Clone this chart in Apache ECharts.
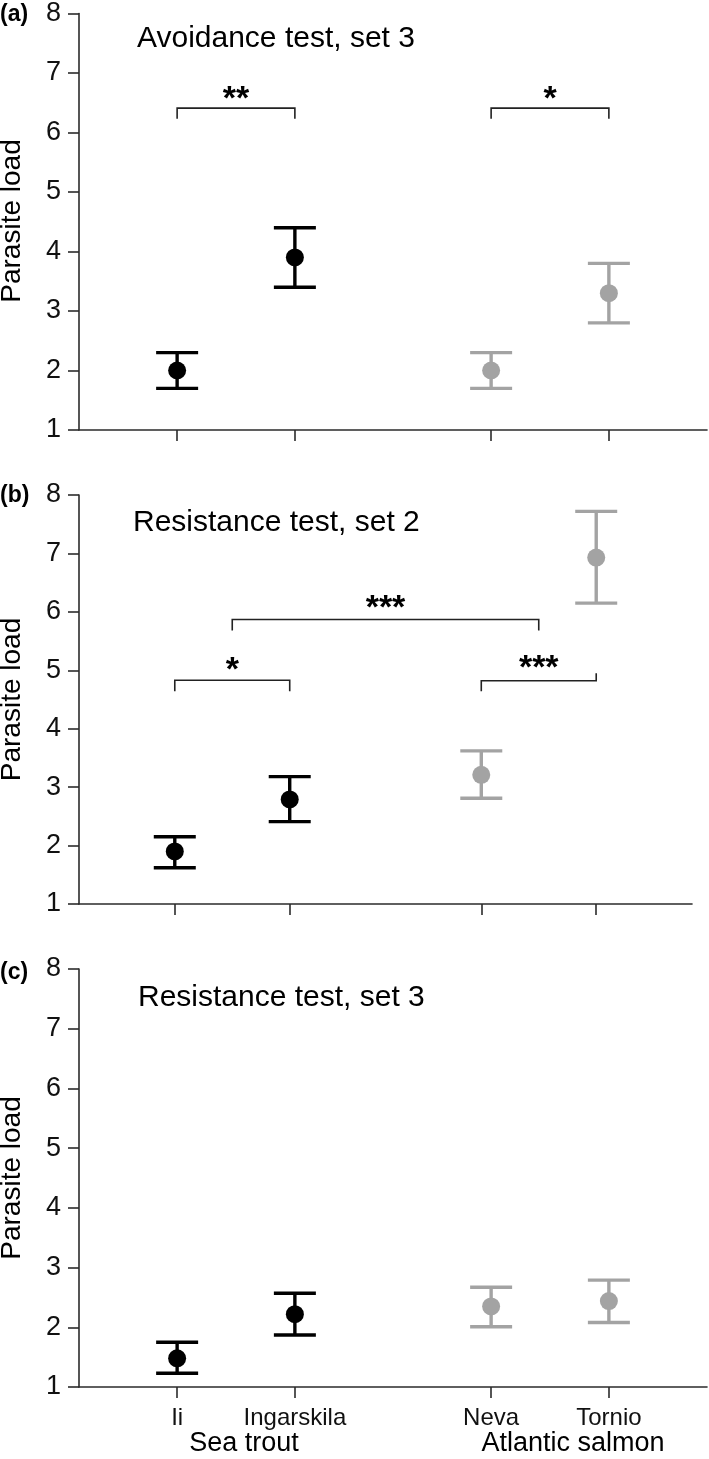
<!DOCTYPE html>
<html><head><meta charset="utf-8">
<script src="https://cdn.jsdelivr.net/npm/echarts@6/dist/echarts.min.js"></script>
<style>html,body{margin:0;padding:0;background:#fff}#c{width:709px;height:1459px}</style>
</head><body><div id="c"></div>
<script>
// ---------------- data ----------------
const populations = ['Ii', 'Ingarskila', 'Neva', 'Tornio'];
const speciesOf = ['Sea trout', 'Sea trout', 'Atlantic salmon', 'Atlantic salmon'];
const groupLabels = ['Sea trout', 'Atlantic salmon'];
const yTicks = [1, 2, 3, 4, 5, 6, 7, 8];
const panelLetters = ['(a)', '(b)', '(c)'];
const panelTitles = ['Avoidance test, set 3', 'Resistance test, set 2', 'Resistance test, set 3'];
const yAxisName = 'Parasite load';

// (a) Avoidance test, set 3
const meanA = [2.0, 3.9, 2.0, 3.3];
const lowA  = [1.7, 3.4, 1.7, 2.8];
const highA = [2.3, 4.4, 2.3, 3.8];
// (b) Resistance test, set 2
const meanB = [1.9, 2.79, 3.21, 6.93];
const lowB  = [1.62, 2.41, 2.81, 6.15];
const highB = [2.15, 3.18, 3.62, 7.72];
// (c) Resistance test, set 3
const meanC = [1.48, 2.22, 2.35, 2.44];
const lowC  = [1.23, 1.87, 2.01, 2.08];
const highC = [1.75, 2.57, 2.67, 2.79];

// significance brackets (left side groups, right side groups, bar level, end levels, stars, star level)
const sigA = [
  { from: ['Ii'], to: ['Ingarskila'], level: 6.41, leftEnd: 6.23, rightEnd: 6.23, label: '**', labelAt: 6.56 },
  { from: ['Neva'], to: ['Tornio'], level: 6.41, leftEnd: 6.23, rightEnd: 6.23, label: '*', labelAt: 6.56 }
];
const sigB = [
  { from: ['Ii'], to: ['Ingarskila'], level: 4.83, leftEnd: 4.64, rightEnd: 4.64, label: '*', labelAt: 5.0 },
  { from: ['Ii', 'Ingarskila'], to: ['Neva', 'Tornio'], level: 5.87, leftEnd: 5.68, rightEnd: 5.68, label: '***', labelAt: 6.05 },
  { from: ['Neva'], to: ['Tornio'], level: 4.82, leftEnd: 4.64, rightEnd: 4.95, label: '***', labelAt: 5.03 }
];
const sigC = [];

// ---------------- layout / style ----------------
const FONT = "'Liberation Sans', Arial, Helvetica, sans-serif";
const speciesColor = { 'Sea trout': '#000000', 'Atlantic salmon': '#a3a3a3' };
const AXIS_COLOR = '#2b2b2b';
// x positions expressed as slots of a 16-slot category axis
const NSLOT = 16;
const slotIndex = { 'Ii': 2, 'Ingarskila': 5, 'Neva': 10, 'Tornio': 13 };
const slots = [];
for (let i = 0; i < NSLOT; i++) slots.push('_gap' + i);
populations.forEach(p => { slots[slotIndex[p]] = p; });

const grids = [
  { left: 79, top: 12, width: 628, height: 418 },
  { left: 79, top: 495, width: 613, height: 409 },
  { left: 79, top: 969, width: 628, height: 418 }
];
const panels = [
  { mean: meanA, low: lowA, high: highA, sig: sigA },
  { mean: meanB, low: lowB, high: highB, sig: sigB },
  { mean: meanC, low: lowC, high: highC, sig: sigC }
];

const isPop = (idx, val) => populations.indexOf(val) >= 0;

const xAxes = grids.map((g, i) => ({
  type: 'category', gridIndex: i, data: slots, boundaryGap: true,
  axisLine: { show: true, lineStyle: { color: AXIS_COLOR, width: 1.6 } },
  axisTick: { show: true, interval: isPop, alignWithLabel: true, length: 11, lineStyle: { color: AXIS_COLOR, width: 1.6 } },
  axisLabel: {
    show: i === 2, interval: isPop, margin: 19,
    fontFamily: FONT, fontSize: 24, color: '#111',
    formatter: v => (populations.indexOf(v) >= 0 ? v : '')
  },
  splitLine: { show: false }
}));

const yAxes = grids.map((g, i) => ({
  type: 'value', gridIndex: i, min: yTicks[0], max: yTicks[yTicks.length - 1], interval: 1,
  axisLine: { show: true, lineStyle: { color: AXIS_COLOR, width: 1.6 } },
  axisTick: { show: true, length: 11, lineStyle: { color: AXIS_COLOR, width: 1.6 } },
  axisLabel: { margin: 18, fontFamily: FONT, fontSize: 27, color: '#111' },
  splitLine: { show: false }
}));

function errorBarRender(params, api) {
  const x = api.value(0);
  const lo = api.coord([x, api.value(1)]);
  const hi = api.coord([x, api.value(2)]);
  const mid = api.coord([x, api.value(3)]);
  const color = api.visual('color');
  const hw = 21, lw = 3.4;
  const ls = { stroke: color, lineWidth: lw, fill: null };
  return {
    type: 'group',
    children: [
      { type: 'line', shape: { x1: lo[0], y1: lo[1], x2: hi[0], y2: hi[1] }, style: ls },
      { type: 'line', shape: { x1: lo[0] - hw, y1: lo[1], x2: lo[0] + hw, y2: lo[1] }, style: ls },
      { type: 'line', shape: { x1: hi[0] - hw, y1: hi[1], x2: hi[0] + hw, y2: hi[1] }, style: ls },
      { type: 'circle', shape: { cx: mid[0], cy: mid[1], r: 9 }, style: { fill: color } }
    ]
  };
}

function makeBracketRender(sig) {
  return function (params, api) {
    const b = sig[params.dataIndex];
    const avgX = names => names.reduce((s, n) => s + api.coord([slotIndex[n], b.level])[0], 0) / names.length;
    const x1 = avgX(b.from), x2 = avgX(b.to);
    const yL = api.coord([slotIndex[b.from[0]], b.level])[1];
    const yLe = api.coord([slotIndex[b.from[0]], b.leftEnd])[1];
    const yRe = api.coord([slotIndex[b.from[0]], b.rightEnd])[1];
    const yT = api.coord([slotIndex[b.from[0]], b.labelAt])[1];
    return {
      type: 'group',
      children: [
        { type: 'polyline', shape: { points: [[x1, yLe], [x1, yL], [x2, yL], [x2, yRe]] },
          style: { stroke: '#222', lineWidth: 1.6, fill: null } },
        { type: 'text', x: (x1 + x2) / 2, y: yT,
          style: { text: b.label, fontFamily: FONT, fontSize: 34, fontWeight: 'bold', fill: '#000', align: 'center', verticalAlign: 'middle' } }
      ]
    };
  };
}

const series = [];
panels.forEach((p, i) => {
  series.push({
    type: 'custom', xAxisIndex: i, yAxisIndex: i, clip: false,
    renderItem: errorBarRender,
    encode: { x: 0, y: [1, 2, 3] },
    data: populations.map((name, k) => ({
      value: [slotIndex[name], p.low[k], p.high[k], p.mean[k]],
      itemStyle: { color: speciesColor[speciesOf[k]] }
    })),
    z: 3
  });
  if (p.sig.length) {
    series.push({
      type: 'custom', xAxisIndex: i, yAxisIndex: i, clip: false,
      renderItem: makeBracketRender(p.sig),
      encode: { x: 0, y: 1 },
      data: p.sig.map(b => [slotIndex[b.from[0]], b.level]),
      z: 2
    });
  }
});

// text elements
const titlePos = [[137, 39], [133, 523], [138, 998]];
const letterPos = [15, 496, 973];
const graphic = [];
grids.forEach((g, i) => {
  graphic.push({ type: 'text', x: 0, y: letterPos[i],
    style: { text: panelLetters[i], fontFamily: FONT, fontSize: 23, fontWeight: 'bold', fill: '#000', align: 'left', verticalAlign: 'middle' } });
  graphic.push({ type: 'text', x: titlePos[i][0], y: titlePos[i][1],
    style: { text: panelTitles[i], fontFamily: FONT, fontSize: 30, fill: '#000', align: 'left', verticalAlign: 'middle' } });
  graphic.push({ type: 'text', x: 12, y: g.top + g.height / 2, rotation: Math.PI / 2,
    style: { text: yAxisName, fontFamily: FONT, fontSize: 28, fill: '#000', align: 'center', verticalAlign: 'middle' } });
});
const groupPos = [[244, 1444], [573, 1444]];
groupLabels.forEach((t, i) => {
  graphic.push({ type: 'text', x: groupPos[i][0], y: groupPos[i][1],
    style: { text: t, fontFamily: FONT, fontSize: 27, fill: '#000', align: 'center', verticalAlign: 'middle' } });
});

const chart = echarts.init(document.getElementById('c'), null, { renderer: 'canvas' });
chart.setOption({
  backgroundColor: '#ffffff',
  animation: false,
  grid: grids,
  xAxis: xAxes,
  yAxis: yAxes,
  series: series,
  graphic: graphic
});
</script>
</body></html>
